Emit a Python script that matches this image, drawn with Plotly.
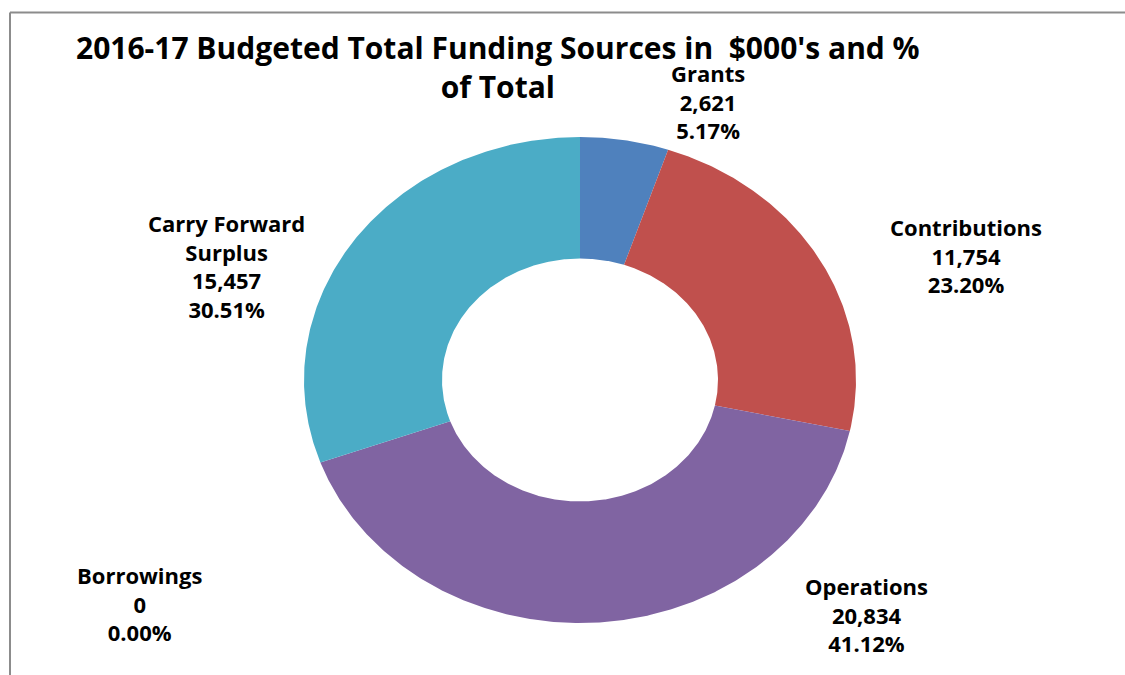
import numpy as np
import plotly.graph_objects as go

# Funding sources, $000's
categories = ["Grants", "Contributions", "Operations", "Borrowings", "Carry Forward<br>Surplus"]
values = [2621, 11754, 20834, 0, 15457]
colors = ["#4F81BD", "#C0504D", "#8064A2", "#9BBB59", "#4BACC6"]

W, H = 1125, 675
# pixel geometry of the ring (elliptical, as drawn on a stretched chart area)
cx, cy = 580, 380
rx, ry = 276, 243
hole = 0.5

total = sum(values)
fractions = [v / total for v in values]

fig = go.Figure()

# axes map unit-circle coordinates onto the stretched ellipse
x_range = [(0 - cx) / rx, (W - cx) / rx]
y_range = [(cy - H) / ry, cy / ry]

start = 0.0
for name, frac, col in zip(categories, fractions, colors):
    end = start + frac
    if frac > 0:
        t = np.linspace(start, end, max(int(frac * 720), 4)) * 2 * np.pi
        xo, yo = np.sin(t), np.cos(t)
        xi, yi = hole * np.sin(t[::-1]), hole * np.cos(t[::-1])
        fig.add_trace(go.Scatter(
            x=np.concatenate([xo, xi, xo[:1]]),
            y=np.concatenate([yo, yi, yo[:1]]),
            fill="toself", fillcolor=col, mode="lines",
            line=dict(width=0, color=col), name=name.replace("<br>", " "),
            hoverinfo="name", showlegend=False,
        ))
    start = end

# data labels: name, value, percent
label_pos = [(708, 102), (966, 256), (866, 614), (139, 603), (226, 266)]
font = dict(family="Open Sans, sans-serif", size=22, color="#000000")
annotations = []
for name, v, frac, (px, py) in zip(categories, values, fractions, label_pos):
    txt = f"<b>{name}<br>{v:,}<br>{frac * 100:.2f}%</b>"
    annotations.append(dict(
        text=txt, x=px / W, y=1 - py / H, xref="paper", yref="paper",
        xanchor="center", yanchor="middle", showarrow=False, align="center",
        font=font,
    ))

annotations.append(dict(
    text="<b>2016-17 Budgeted Total Funding Sources in&nbsp; $000's and %<br>of Total</b>",
    x=498 / W, y=1 - 67 / H, xref="paper", yref="paper",
    xanchor="center", yanchor="middle", showarrow=False, align="center",
    font=dict(family="Open Sans, sans-serif", size=30, color="#000000"),
))

shapes = [
    dict(type="line", xref="paper", yref="paper", x0=10 / W, x1=1, y0=1 - 12.5 / H, y1=1 - 12.5 / H,
         line=dict(color="#8c8c8c", width=2)),
    dict(type="line", xref="paper", yref="paper", x0=10 / W, x1=10 / W, y0=1 - 12.5 / H, y1=0,
         line=dict(color="#8c8c8c", width=2)),
]

fig.update_layout(
    width=W, height=H,
    margin=dict(l=0, r=0, t=0, b=0),
    paper_bgcolor="white", plot_bgcolor="white",
    xaxis=dict(range=x_range, visible=False, fixedrange=True),
    yaxis=dict(range=y_range, visible=False, fixedrange=True),
    annotations=annotations, shapes=shapes,
    showlegend=False,
)

fig.write_html("out.html")
